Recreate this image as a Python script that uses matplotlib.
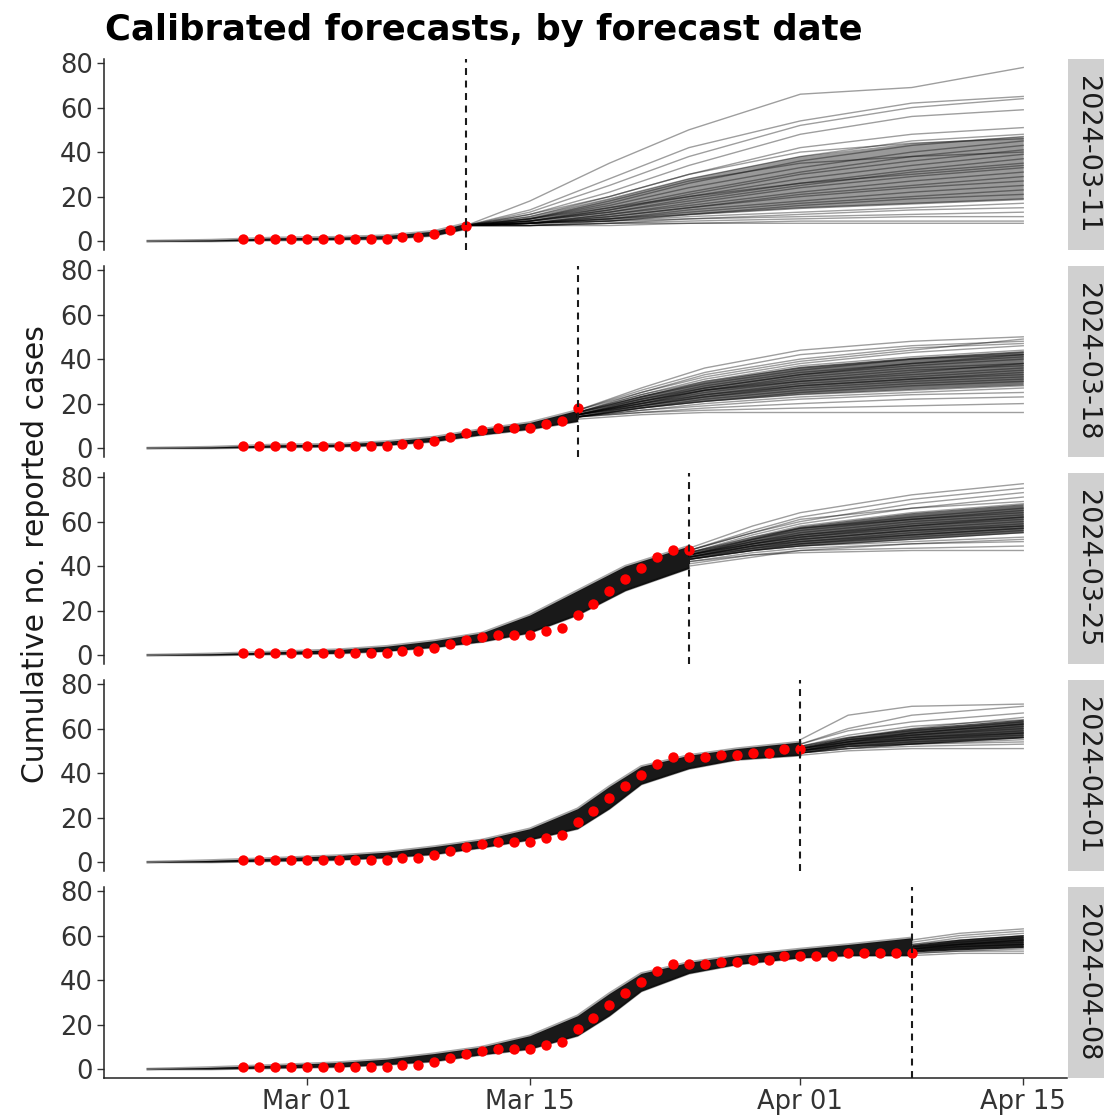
import numpy as np
import matplotlib
matplotlib.use("Agg")
import matplotlib.pyplot as plt
import matplotlib.dates as mdates
from matplotlib.patches import Rectangle

plt.rcParams['font.family'] = ['DejaVu Sans']
plt.rcParams['lines.scale_dashes'] = False

# ---------------- data ----------------
obs_start = "2024-02-26"
obs_cases = [1, 1, 1, 1, 1, 1, 1, 1, 1, 1,
             2, 2, 3, 5, 7, 8, 9, 9, 9, 11, 12,
             18, 23, 29, 34, 39, 44, 47, 47, 47, 48, 48, 49, 49,
             51, 51, 51, 51, 52, 52, 52, 52, 52]

forecast_dates = ["2024-03-11", "2024-03-18", "2024-03-25", "2024-04-01", "2024-04-08"]

# model fit envelope before each forecast date (lower / upper)
fit_dates = [
    ["2024-02-20", "2024-02-24", "2024-02-28", "2024-03-03", "2024-03-06", "2024-03-09", "2024-03-11"],
    ["2024-02-20", "2024-02-24", "2024-02-28", "2024-03-03", "2024-03-06", "2024-03-09", "2024-03-12",
     "2024-03-15", "2024-03-18"],
    ["2024-02-20", "2024-02-24", "2024-02-28", "2024-03-03", "2024-03-06", "2024-03-09", "2024-03-12",
     "2024-03-15", "2024-03-18", "2024-03-21", "2024-03-25"],
    ["2024-02-20", "2024-02-24", "2024-02-28", "2024-03-03", "2024-03-06", "2024-03-09", "2024-03-12",
     "2024-03-15", "2024-03-18", "2024-03-20", "2024-03-22", "2024-03-25", "2024-03-28", "2024-04-01"],
    ["2024-02-20", "2024-02-24", "2024-02-28", "2024-03-03", "2024-03-06", "2024-03-09", "2024-03-12",
     "2024-03-15", "2024-03-18", "2024-03-20", "2024-03-22", "2024-03-25", "2024-03-28", "2024-04-01",
     "2024-04-04", "2024-04-08"],
]
fit_low = [
    [0, 0, 0.4, 0.7, 1.0, 2.5, 5.5],
    [0, 0, 0.4, 0.7, 1.3, 3.0, 6.0, 8.5, 12],
    [0, 0, 0.4, 0.8, 1.8, 3.5, 6.0, 10, 18, 29, 39],
    [0, 0, 0.5, 1.0, 2.0, 3.5, 6.5, 10, 15, 24, 35, 42, 46, 48],
    [0, 0, 0.5, 1.0, 2.0, 3.5, 6.5, 9, 15, 24, 35, 43, 47, 50, 51, 51],
]
fit_high = [
    [0, 0.5, 1.5, 1.8, 2.5, 4.5, 8.0],
    [0, 0.5, 1.5, 1.8, 3.0, 5.0, 8.5, 11.5, 17],
    [0, 0.6, 1.5, 2.5, 4.0, 6.5, 10, 18, 29, 40, 49],
    [0, 0.8, 1.8, 3.0, 4.5, 7.0, 10, 15, 24, 34, 43, 48, 51, 54],
    [0, 0.8, 1.8, 3.0, 4.5, 7.0, 10, 15, 24, 34, 43, 48, 51, 54, 56, 59],
]

# forecast trajectories (values at knot dates)
traj_dates = [
    ["2024-03-11", "2024-03-15", "2024-03-20", "2024-03-25", "2024-04-01", "2024-04-08", "2024-04-15"],
    ["2024-03-18", "2024-03-22", "2024-03-26", "2024-04-01", "2024-04-08", "2024-04-15"],
    ["2024-03-25", "2024-03-29", "2024-04-01", "2024-04-08", "2024-04-15"],
    ["2024-04-01", "2024-04-04", "2024-04-08", "2024-04-15"],
    ["2024-04-08", "2024-04-11", "2024-04-15"],
]
traj_p1 = [
    [7, 18, 35, 50, 66, 69, 78], [7, 14, 28, 42, 54, 62, 65], [7, 13, 25, 38, 52, 60, 64],
    [7, 12, 22, 34, 48, 56, 59], [7, 12, 20, 30, 42, 48, 51], [7, 11, 19, 28, 38, 45, 48],
    [7, 10, 17, 26, 36, 43, 47], [7, 10, 16, 24, 33, 40, 45], [7, 10, 15, 22, 31, 38, 43],
    [7, 9, 14, 21, 30, 36, 41], [7, 9, 14, 20, 28, 34, 39], [7, 9, 13, 19, 26, 32, 37],
    [7, 9, 13, 18, 25, 31, 35], [7, 8, 12, 17, 24, 29, 33], [7, 8, 12, 16, 22, 27, 31],
    [7, 8, 11, 15, 21, 25, 29], [7, 8, 11, 15, 20, 24, 27], [7, 8, 10, 14, 18, 22, 25],
    [7, 8, 10, 13, 17, 20, 23], [7, 8, 10, 12, 16, 19, 21], [7, 8, 9, 12, 15, 17, 19],
    [7, 8, 9, 11, 13, 15, 17], [7, 7, 9, 10, 12, 14, 15], [7, 7, 8, 10, 11, 12, 13],
    [7, 7, 8, 9, 10, 11, 11], [7, 7, 8, 8, 9, 9, 9], [7, 7, 7, 8, 8, 8, 8],
    [7, 11, 20, 30, 40, 44, 46], [7, 10, 18, 27, 35, 38, 40], [7, 9, 15, 20, 26, 30, 34],
]
traj_p2 = [
    [17, 27, 36, 44, 48, 50], [17, 26, 34, 42, 46, 48], [16, 25, 33, 40, 45, 47],
    [16, 24, 31, 38, 43, 46], [16, 24, 30, 37, 41, 44], [16, 23, 29, 35, 40, 42],
    [16, 22, 28, 34, 38, 41], [15, 22, 27, 33, 37, 40], [15, 21, 26, 32, 36, 38],
    [15, 21, 26, 31, 35, 37], [15, 20, 25, 30, 33, 36], [15, 20, 24, 29, 32, 35],
    [15, 19, 23, 28, 31, 33], [15, 19, 23, 27, 30, 32], [14, 18, 22, 26, 29, 31],
    [14, 18, 21, 25, 28, 30], [14, 18, 21, 24, 26, 28], [14, 17, 20, 23, 25, 27],
    [14, 17, 19, 22, 24, 25], [14, 16, 18, 20, 22, 23], [14, 16, 17, 18, 19, 20],
    [13, 15, 16, 16, 16, 16], [17, 25, 32, 39, 44, 49], [16, 23, 30, 36, 40, 43],
    [15, 21, 27, 33, 38, 42], [15, 20, 26, 30, 34, 38], [14, 19, 24, 28, 31, 34],
]
traj_p3 = [
    [48, 58, 64, 72, 77], [47, 56, 62, 70, 75], [47, 55, 60, 68, 73], [46, 54, 59, 66, 71],
    [46, 53, 58, 64, 68], [46, 52, 57, 62, 66], [45, 52, 56, 61, 65], [45, 51, 55, 60, 63],
    [45, 51, 54, 59, 62], [45, 50, 53, 58, 61], [44, 50, 53, 57, 60], [44, 49, 52, 56, 59],
    [44, 49, 51, 55, 58], [44, 48, 51, 54, 57], [43, 48, 50, 53, 56], [43, 47, 49, 52, 55],
    [43, 47, 49, 51, 53], [42, 46, 48, 50, 51], [42, 45, 47, 48, 49], [41, 45, 46, 47, 47],
    [47, 55, 61, 66, 69], [46, 53, 57, 61, 64], [45, 50, 54, 58, 62], [44, 49, 52, 56, 58],
    [43, 47, 50, 54, 57], [40, 44, 47, 50, 52],
]
traj_p4 = [
    [55, 66, 70, 71], [53, 60, 66, 70], [53, 59, 63, 67], [52, 57, 61, 64], [52, 56, 59, 63],
    [51, 55, 58, 62], [51, 55, 57, 61], [51, 54, 57, 60], [50, 54, 56, 59], [50, 53, 55, 58],
    [50, 53, 55, 57], [50, 52, 54, 56], [49, 52, 53, 55], [49, 51, 53, 54], [49, 51, 52, 53],
    [48, 50, 51, 51], [52, 56, 60, 65], [51, 54, 58, 62], [50, 53, 56, 58], [49, 51, 53, 56],
]
traj_p5 = [
    [58, 61, 63], [57, 60, 62], [56, 58, 60], [55, 57, 59], [55, 56, 58], [54, 56, 57],
    [54, 55, 56], [53, 55, 56], [53, 54, 55], [52, 53, 54], [52, 53, 53], [51, 52, 52],
    [56, 59, 61], [54, 56, 58],
]
trajectories = [traj_p1, traj_p2, traj_p3, traj_p4, traj_p5]

title = "Calibrated forecasts, by forecast date"
ylabel = "Cumulative no. reported cases"
x_ticks = ["2024-03-01", "2024-03-15", "2024-04-01", "2024-04-15"]
y_ticks = [0, 20, 40, 60, 80]

# ---------------- figure ----------------
W, H = 1104, 1116
fig = plt.figure(figsize=(W / 100, H / 100), dpi=100)

left_px, right_px = 104, 1067
panel_top0, panel_h, panel_step = 58.8, 191, 207
obs_dates = np.datetime64(obs_start) + np.arange(len(obs_cases))
obs_arr = np.array(obs_cases, dtype=float)

core_alpha = [0.4, 0.55, 0.6, 0.7, 0.85]

for k in range(5):
    top = panel_top0 + panel_step * k
    ax = fig.add_axes([left_px / W, 1 - (top + panel_h) / H, (right_px - left_px) / W, panel_h / H])
    fd = np.datetime64(forecast_dates[k])

    # fit envelope
    fdts = np.array(fit_dates[k], dtype='datetime64[D]')
    ax.fill_between(fdts, fit_low[k], fit_high[k], color='black', alpha=0.9, lw=0, zorder=2)
    ax.plot(fdts, fit_low[k], color='black', lw=1.8, alpha=0.35, zorder=2)
    ax.plot(fdts, fit_high[k], color='black', lw=1.8, alpha=0.35, zorder=2)

    # forecast trajectories
    tdts = np.array(traj_dates[k], dtype='datetime64[D]')
    tr = np.array(trajectories[k], dtype=float)
    lo = np.percentile(tr, 20, axis=0)
    hi = np.percentile(tr, 80, axis=0)
    ax.fill_between(tdts, lo, hi, color='black', alpha=core_alpha[k], lw=0, zorder=2)
    for row in tr:
        ax.plot(tdts, row, color='black', alpha=0.38, lw=1.0, zorder=3)

    # observed
    m = obs_dates <= fd
    ax.scatter(obs_dates[m], obs_arr[m], s=56, color='#ff0000', zorder=5, linewidths=0)

    ax.axvline(fd, color='#1a1a1a', lw=1.5, dashes=(5, 4), zorder=6)

    ax.set_xlim(np.datetime64("2024-02-17T06:00"), np.datetime64("2024-04-17T18:00"))
    ax.set_ylim(-3.9, 81.9)
    ax.set_yticks(y_ticks)
    ax.set_yticklabels([str(v) for v in y_ticks])
    ax.tick_params(axis='y', labelsize=18.5, colors='#333333', length=5, width=1, pad=3)
    ax.spines['top'].set_visible(False)
    ax.spines['right'].set_visible(False)
    ax.spines['left'].set_linewidth(1.1)
    ax.spines['left'].set_color('#222222')
    ax.patch.set_alpha(0)
    if k < 4:
        ax.spines['bottom'].set_visible(False)
        ax.set_xticks([])
    else:
        ax.spines['bottom'].set_linewidth(1.1)
        ax.spines['bottom'].set_color('#222222')
        ax.set_xticks(np.array(x_ticks, dtype='datetime64[D]'))
        ax.xaxis.set_major_formatter(mdates.DateFormatter('%b %d'))
        ax.tick_params(axis='x', labelsize=18.5, colors='#333333', length=5, width=1, pad=3)

    # facet strip on the right
    sx0 = 1068 / W
    fig.patches.append(Rectangle((sx0, 1 - (top + panel_h) / H), 1 - sx0, panel_h / H,
                                 transform=fig.transFigure, facecolor='#d0d0d0',
                                 edgecolor='none', zorder=0))
    fig.text(1087 / W, 1 - (top + panel_h / 2) / H, forecast_dates[k], rotation=270,
             ha='center', va='center', fontsize=19.5, color='#1a1a1a')

fig.text(105 / W, 1 - 40 / H, title, fontsize=25.5, fontweight='bold', ha='left', va='baseline')
fig.text(36 / W, 1 - 554 / H, ylabel, rotation=90, fontsize=21.5, ha='center', va='center',
         color='#1a1a1a')

fig.savefig("out.png", dpi=100)
